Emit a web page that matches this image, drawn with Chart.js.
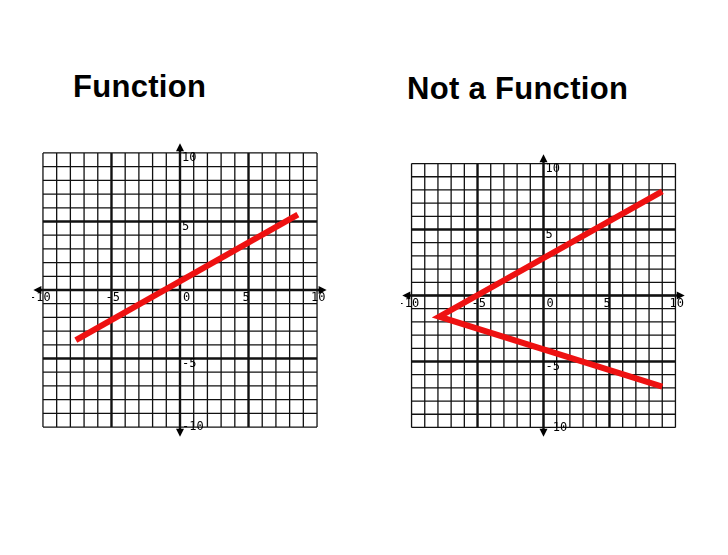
<!DOCTYPE html>
<html><head><meta charset="utf-8">
<script src="https://cdn.jsdelivr.net/npm/chart.js@4/dist/chart.umd.min.js"></script>
<style>
body{margin:0;width:728px;height:555px;background:#fff;position:relative;overflow:hidden;font-family:"Liberation Sans",Arial,sans-serif}
.t{position:absolute;font-weight:bold;font-size:31px;color:#000;letter-spacing:0.3px}
.c{position:absolute}
</style></head><body>
<div class="t" style="left:73px;top:69px">Function</div>
<div class="t" style="left:407px;top:71px">Not a Function</div>
<div class="c" style="left:32px;top:142px;width:296px;height:296px"><canvas id="c1"></canvas></div>
<div class="c" style="left:401px;top:153px;width:285px;height:285px"><canvas id="c2"></canvas></div>
<script>
const tickLabels=[-10,-5,0,5,10];
const lineX1=[-7.6,8.6], lineY1=[-3.65,5.5];
const lineX2=[9.0,-7.9,9.0], lineY2=[7.9,-1.6,-6.9];

const gridPlugin={id:'grid',beforeDatasetsDraw(chart){
  const ctx=chart.ctx,xs=chart.scales.x,ys=chart.scales.y;
  const X=v=>xs.getPixelForValue(v),Y=v=>ys.getPixelForValue(v);
  ctx.save();ctx.strokeStyle='#111';
  for(let i=-10;i<=10;i++){
    ctx.lineWidth=(Math.abs(i)===5)?2.4:1.3;
    ctx.beginPath();ctx.moveTo(X(i),Y(-10));ctx.lineTo(X(i),Y(10));ctx.stroke();
    ctx.beginPath();ctx.moveTo(X(-10),Y(i));ctx.lineTo(X(10),Y(i));ctx.stroke();
  }
  ctx.lineWidth=2.4;
  const e=10.7;
  ctx.beginPath();ctx.moveTo(X(-e+0.3),Y(0));ctx.lineTo(X(e-0.3),Y(0));ctx.stroke();
  ctx.beginPath();ctx.moveTo(X(0),Y(-e+0.3));ctx.lineTo(X(0),Y(e-0.3));ctx.stroke();
  ctx.fillStyle='#000';
  const arr=(x,y,dx,dy)=>{ctx.beginPath();ctx.moveTo(x,y);ctx.lineTo(x-dx*8+dy*4,y-dy*8+dx*4);ctx.lineTo(x-dx*8-dy*4,y-dy*8-dx*4);ctx.closePath();ctx.fill();};
  arr(X(e),Y(0),1,0);arr(X(-e),Y(0),-1,0);arr(X(0),Y(e),0,-1);arr(X(0),Y(-e),0,1);
  ctx.font='12px "DejaVu Sans Mono",monospace';ctx.textBaseline='top';ctx.textAlign='left';
  tickLabels.forEach(v=>{
    const s=String(v);
    ctx.fillStyle='#000';
    ctx.fillText(s,X(v)+(v===10?-6:v===-10?-14:v===0?3:-6),Y(0)+2);
    if(v!==0)ctx.fillText(s,X(0)+2,Y(v)+(v===-10?-6:-1));
  });
  ctx.restore();
}};
function make(id,xs,ys){
  new Chart(document.getElementById(id),{type:'scatter',
    data:{datasets:[{data:xs.map((x,i)=>({x,y:ys[i]})),showLine:true,borderColor:'#ee1111',borderWidth:6,pointRadius:0,fill:false,borderCapStyle:'butt',borderJoinStyle:'miter'}]},
    options:{responsive:true,maintainAspectRatio:false,animation:false,layout:{padding:0},
      plugins:{legend:{display:false},tooltip:{enabled:false}},
      scales:{x:{type:'linear',min:-10.8,max:10.8,display:false},y:{type:'linear',min:-10.8,max:10.8,display:false}}},
    plugins:[gridPlugin]});
}
make('c1',lineX1,lineY1);
make('c2',lineX2,lineY2);
</script></body></html>
